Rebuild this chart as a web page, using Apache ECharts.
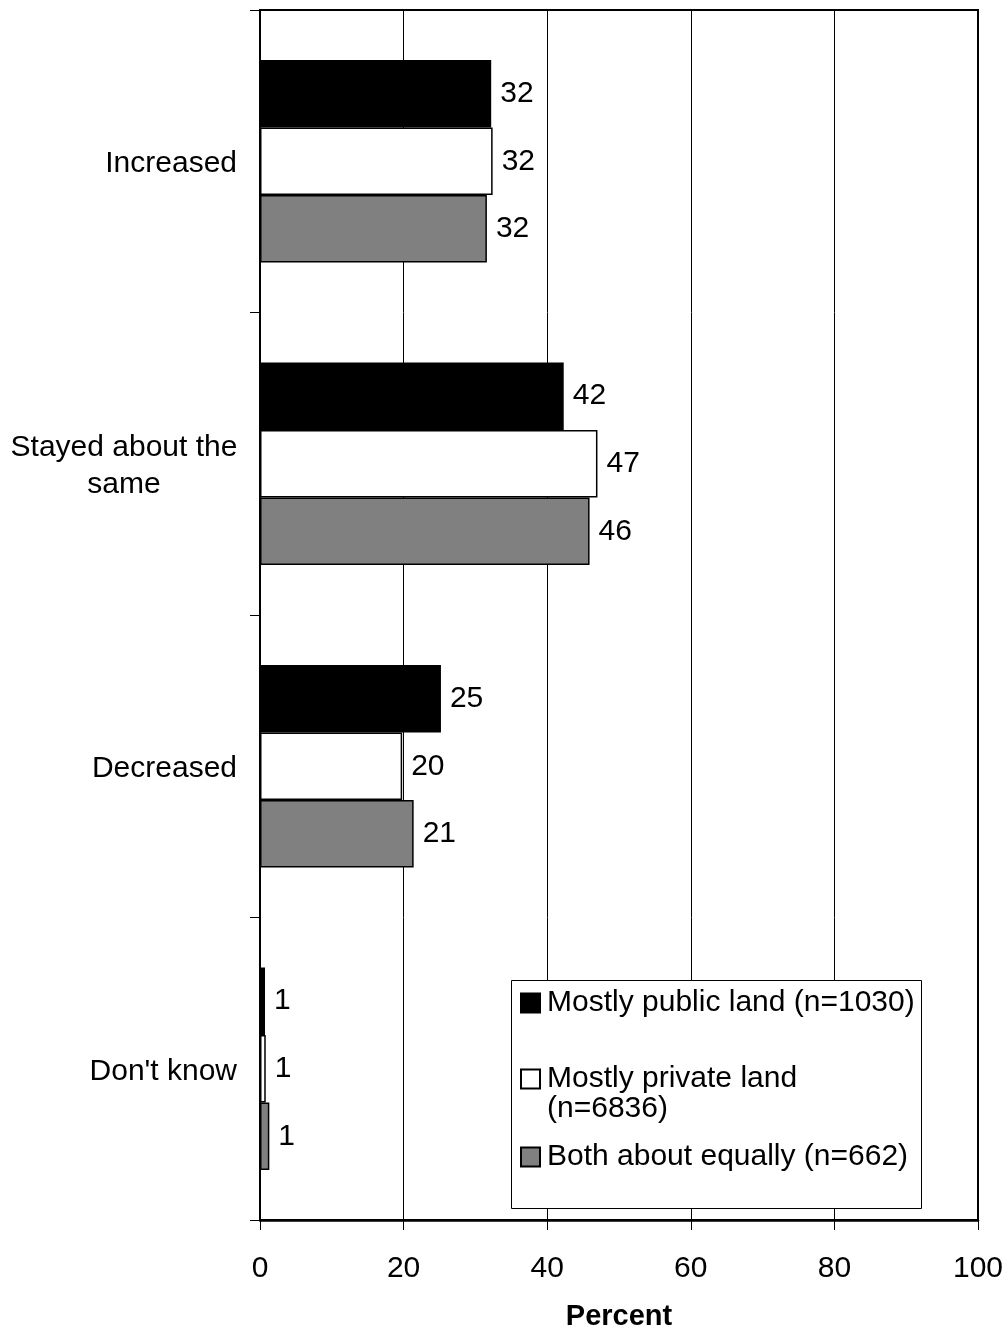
<!DOCTYPE html>
<html>
<head>
<meta charset="utf-8">
<script src="https://cdn.jsdelivr.net/npm/echarts@6/dist/echarts.min.js"></script>
<style>
html,body{margin:0;padding:0;background:#fff;}
#chart{width:1008px;height:1330px;}
</style>
</head>
<body>
<div id="chart"></div>
<script>
var categories = ['Increased', 'Stayed about the\nsame', 'Decreased', "Don't know"];
var seriesNames = ['Mostly public land (n=1030)', 'Mostly private land (n=6836)', 'Both about equally (n=662)'];
var publicLand = [32.2, 42.3, 25.2, 0.7];
var privateLand = [32.4, 47.0, 19.8, 0.8];
var bothEqually = [31.6, 45.9, 21.4, 1.3];
var xTicks = [0, 20, 40, 60, 80, 100];
var xAxisTitle = 'Percent';

var FONT = '"Liberation Sans", Arial, sans-serif';
var FS = 30;
var chart = echarts.init(document.getElementById('chart'), null, {renderer: 'canvas'});

function barSeries(name, values, fill) {
  return {
    name: name,
    type: 'bar',
    data: values,
    barGap: '0%',
    barCategoryGap: '33%',
    itemStyle: {color: fill, borderColor: '#000', borderWidth: 1.5},
    label: {
      show: true,
      position: 'right',
      distance: 9,
      color: '#000',
      fontFamily: FONT,
      fontSize: FS,
      padding: [5, 0, 0, 0],
      formatter: function (p) { return Math.round(p.value); }
    },
    emphasis: {disabled: true},
    animation: false
  };
}

function legendAt(name, top, icon, itemHeight, fmt) {
  return {
    data: [name],
    orient: 'vertical',
    left: 520,
    top: top,
    padding: 0,
    itemWidth: 19,
    itemHeight: itemHeight,
    icon: icon,
    selectedMode: false,
    formatter: fmt,
    textStyle: {fontFamily: FONT, fontSize: FS, color: '#000', lineHeight: 30, padding: [0, 0, 0, 2]},
    z: 5
  };
}

var option = {
  backgroundColor: '#fff',
  animation: false,
  grid: {
    left: 260, right: 30, top: 10, bottom: 110,
    outerBoundsMode: 'none',
    containLabel: false,
    show: true, borderColor: '#000', borderWidth: 2, backgroundColor: 'transparent'
  },
  xAxis: {
    type: 'value',
    min: xTicks[0], max: xTicks[xTicks.length - 1], interval: 20,
    name: xAxisTitle,
    nameLocation: 'middle',
    nameGap: 82,
    nameTextStyle: {fontFamily: FONT, fontSize: 29, fontWeight: 'bold', color: '#000'},
    axisLine: {show: true, lineStyle: {color: '#000', width: 2.5}},
    axisTick: {show: true, inside: false, length: 10, lineStyle: {color: '#000', width: 1}},
    axisLabel: {fontFamily: FONT, fontSize: FS, color: '#000', margin: 34},
    splitLine: {show: true, lineStyle: {color: '#000', width: 1}}
  },
  yAxis: {
    type: 'category',
    data: categories,
    inverse: true,
    axisLine: {show: true, lineStyle: {color: '#000', width: 2}},
    axisTick: {show: true, inside: false, length: 10, lineStyle: {color: '#000', width: 1}},
    axisLabel: {
      fontFamily: FONT, fontSize: FS, color: '#000', margin: 23, align: 'right', lineHeight: 37,
      padding: [5, 0, 0, 0],
      formatter: function (v) {
        if (v.indexOf('\n') >= 0) {
          return v.split('\n').map(function (s) { return '{c|' + s + '}'; }).join('\n');
        }
        return v;
      },
      rich: {c: {fontFamily: FONT, fontSize: FS, color: '#000', width: 226, align: 'center', lineHeight: 37}}
    },
    splitLine: {show: false}
  },
  legend: [
    legendAt(seriesNames[0], 988, 'rect', 19),
    legendAt(seriesNames[1], 1064, 'path://M0,0H19V19H0Z M0,49', 49, function (n) { return n.replace(' (n=', '\n(n='); }),
    legendAt(seriesNames[2], 1142, 'rect', 19)
  ],
  graphic: [{
    type: 'rect',
    left: 511, top: 980, z: 3,
    shape: {width: 410, height: 228},
    style: {fill: '#fff', stroke: '#000', lineWidth: 1}
  }],
  series: [
    barSeries(seriesNames[0], publicLand, '#000000'),
    barSeries(seriesNames[1], privateLand, '#ffffff'),
    barSeries(seriesNames[2], bothEqually, '#808080')
  ]
};
chart.setOption(option);
</script>
</body>
</html>
